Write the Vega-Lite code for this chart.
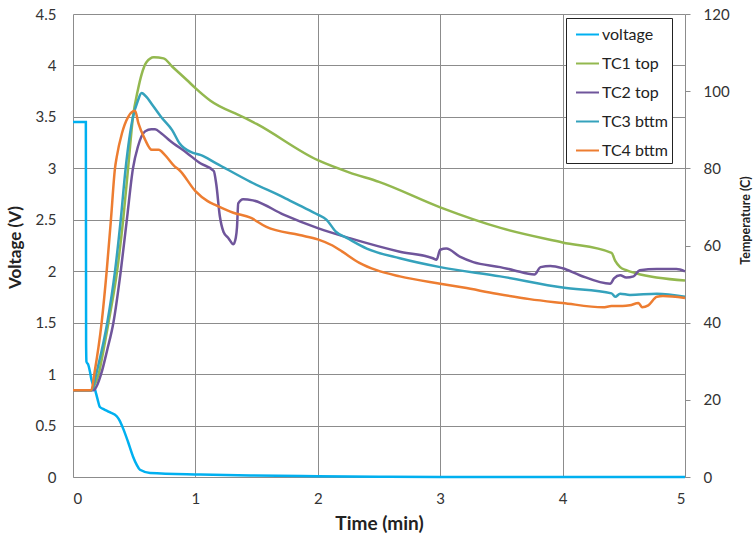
{
  "$schema": "https://vega.github.io/schema/vega-lite/v6.json",
  "width": 612,
  "height": 463,
  "autosize": {"type": "none"},
  "padding": {"left": 73, "top": 14, "right": 70, "bottom": 58},
  "background": "white",
  "config": {
    "font": "Lato",
    "view": {"stroke": null},
    "axis": {"labelFont": "Lato", "titleFont": "Lato", "labelFontSize": 15, "titleFontSize": 14, "labelColor": "#333333", "titleColor": "#222222", "gridColor": "#8c8c8c", "gridWidth": 1, "domainColor": "#8c8c8c", "tickColor": "#8c8c8c"}
  },
  "datasets": {
    "volt": [
      {"s": "voltage", "t": 0, "v": 3.45},
      {"s": "voltage", "t": 0.105, "v": 3.45},
      {"s": "voltage", "t": 0.107, "v": 1.3},
      {"s": "voltage", "t": 0.11, "v": 1.12},
      {"s": "voltage", "t": 0.125, "v": 1.09},
      {"s": "voltage", "t": 0.139, "v": 1.02},
      {"s": "voltage", "t": 0.15, "v": 0.95},
      {"s": "voltage", "t": 0.18, "v": 0.85},
      {"s": "voltage", "t": 0.2, "v": 0.76},
      {"s": "voltage", "t": 0.22, "v": 0.68},
      {"s": "voltage", "t": 0.25, "v": 0.66},
      {"s": "voltage", "t": 0.3, "v": 0.63},
      {"s": "voltage", "t": 0.357, "v": 0.59},
      {"s": "voltage", "t": 0.38, "v": 0.55},
      {"s": "voltage", "t": 0.41, "v": 0.47},
      {"s": "voltage", "t": 0.45, "v": 0.34},
      {"s": "voltage", "t": 0.49, "v": 0.2},
      {"s": "voltage", "t": 0.52, "v": 0.12},
      {"s": "voltage", "t": 0.547, "v": 0.07},
      {"s": "voltage", "t": 0.63, "v": 0.04},
      {"s": "voltage", "t": 1.04, "v": 0.025},
      {"s": "voltage", "t": 1.45, "v": 0.015},
      {"s": "voltage", "t": 2.0, "v": 0.008},
      {"s": "voltage", "t": 2.5, "v": 0.003},
      {"s": "voltage", "t": 3.0, "v": 0},
      {"s": "voltage", "t": 5.0, "v": 0}
    ],
    "temps": [
      {"s": "TC1 top", "t": 0, "v": 22.5},
      {"s": "TC1 top", "t": 0.15, "v": 22.5},
      {"s": "TC1 top", "t": 0.17, "v": 23.5},
      {"s": "TC1 top", "t": 0.21, "v": 26.7},
      {"s": "TC1 top", "t": 0.25, "v": 33},
      {"s": "TC1 top", "t": 0.29, "v": 40},
      {"s": "TC1 top", "t": 0.36, "v": 53.3},
      {"s": "TC1 top", "t": 0.41, "v": 66.7},
      {"s": "TC1 top", "t": 0.45, "v": 80},
      {"s": "TC1 top", "t": 0.49, "v": 93.3},
      {"s": "TC1 top", "t": 0.53, "v": 100.3},
      {"s": "TC1 top", "t": 0.56, "v": 104.3},
      {"s": "TC1 top", "t": 0.6, "v": 107.5},
      {"s": "TC1 top", "t": 0.66, "v": 108.8},
      {"s": "TC1 top", "t": 0.74, "v": 108.5},
      {"s": "TC1 top", "t": 0.81, "v": 106.4},
      {"s": "TC1 top", "t": 0.93, "v": 102.9},
      {"s": "TC1 top", "t": 1.0, "v": 100.8},
      {"s": "TC1 top", "t": 1.12, "v": 97.6},
      {"s": "TC1 top", "t": 1.39, "v": 93.3},
      {"s": "TC1 top", "t": 1.5, "v": 91.5},
      {"s": "TC1 top", "t": 2.0, "v": 82.1},
      {"s": "TC1 top", "t": 2.26, "v": 78.9},
      {"s": "TC1 top", "t": 2.5, "v": 76.5},
      {"s": "TC1 top", "t": 3.0, "v": 69.9},
      {"s": "TC1 top", "t": 3.5, "v": 64.5},
      {"s": "TC1 top", "t": 4.0, "v": 60.8},
      {"s": "TC1 top", "t": 4.4, "v": 58.1},
      {"s": "TC1 top", "t": 4.43, "v": 56},
      {"s": "TC1 top", "t": 4.47, "v": 54.4},
      {"s": "TC1 top", "t": 4.52, "v": 53.6},
      {"s": "TC1 top", "t": 4.6, "v": 52.8},
      {"s": "TC1 top", "t": 5.0, "v": 50.9},
      {"s": "TC2 top", "t": 0, "v": 22.5},
      {"s": "TC2 top", "t": 0.17, "v": 22.5},
      {"s": "TC2 top", "t": 0.2, "v": 24},
      {"s": "TC2 top", "t": 0.23, "v": 26.7},
      {"s": "TC2 top", "t": 0.28, "v": 33},
      {"s": "TC2 top", "t": 0.33, "v": 40},
      {"s": "TC2 top", "t": 0.39, "v": 53.3},
      {"s": "TC2 top", "t": 0.44, "v": 66.7},
      {"s": "TC2 top", "t": 0.49, "v": 80},
      {"s": "TC2 top", "t": 0.53, "v": 85.6},
      {"s": "TC2 top", "t": 0.59, "v": 89.6},
      {"s": "TC2 top", "t": 0.64, "v": 90.1},
      {"s": "TC2 top", "t": 0.67, "v": 90.1},
      {"s": "TC2 top", "t": 0.72, "v": 89.1},
      {"s": "TC2 top", "t": 0.79, "v": 87.2},
      {"s": "TC2 top", "t": 0.93, "v": 84},
      {"s": "TC2 top", "t": 1.04, "v": 81.3},
      {"s": "TC2 top", "t": 1.15, "v": 79.3},
      {"s": "TC2 top", "t": 1.17, "v": 76},
      {"s": "TC2 top", "t": 1.2, "v": 67.5},
      {"s": "TC2 top", "t": 1.23, "v": 63.5},
      {"s": "TC2 top", "t": 1.27, "v": 61.9},
      {"s": "TC2 top", "t": 1.31, "v": 60.3},
      {"s": "TC2 top", "t": 1.33, "v": 62},
      {"s": "TC2 top", "t": 1.34, "v": 64.8},
      {"s": "TC2 top", "t": 1.35, "v": 70.9},
      {"s": "TC2 top", "t": 1.39, "v": 72},
      {"s": "TC2 top", "t": 1.47, "v": 71.7},
      {"s": "TC2 top", "t": 1.72, "v": 68},
      {"s": "TC2 top", "t": 2.0, "v": 64.5},
      {"s": "TC2 top", "t": 2.26, "v": 61.9},
      {"s": "TC2 top", "t": 2.67, "v": 58.4},
      {"s": "TC2 top", "t": 2.94, "v": 56.7},
      {"s": "TC2 top", "t": 2.97, "v": 56.3},
      {"s": "TC2 top", "t": 3.0, "v": 58.9},
      {"s": "TC2 top", "t": 3.05, "v": 59.2},
      {"s": "TC2 top", "t": 3.16, "v": 57.1},
      {"s": "TC2 top", "t": 3.27, "v": 55.7},
      {"s": "TC2 top", "t": 3.49, "v": 54.4},
      {"s": "TC2 top", "t": 3.6, "v": 53.6},
      {"s": "TC2 top", "t": 3.77, "v": 52.5},
      {"s": "TC2 top", "t": 3.82, "v": 54.4},
      {"s": "TC2 top", "t": 3.9, "v": 54.7},
      {"s": "TC2 top", "t": 4.0, "v": 54.1},
      {"s": "TC2 top", "t": 4.14, "v": 52.3},
      {"s": "TC2 top", "t": 4.39, "v": 50.1},
      {"s": "TC2 top", "t": 4.42, "v": 51.5},
      {"s": "TC2 top", "t": 4.47, "v": 52.3},
      {"s": "TC2 top", "t": 4.52, "v": 51.7},
      {"s": "TC2 top", "t": 4.58, "v": 52},
      {"s": "TC2 top", "t": 4.63, "v": 53.6},
      {"s": "TC2 top", "t": 4.77, "v": 53.9},
      {"s": "TC2 top", "t": 4.93, "v": 53.9},
      {"s": "TC2 top", "t": 5.0, "v": 53.3},
      {"s": "TC3 bttm", "t": 0, "v": 22.5},
      {"s": "TC3 bttm", "t": 0.15, "v": 22.5},
      {"s": "TC3 bttm", "t": 0.17, "v": 24},
      {"s": "TC3 bttm", "t": 0.19, "v": 26.7},
      {"s": "TC3 bttm", "t": 0.28, "v": 40},
      {"s": "TC3 bttm", "t": 0.343, "v": 53.3},
      {"s": "TC3 bttm", "t": 0.39, "v": 66.7},
      {"s": "TC3 bttm", "t": 0.43, "v": 80},
      {"s": "TC3 bttm", "t": 0.49, "v": 93.3},
      {"s": "TC3 bttm", "t": 0.53, "v": 97.5},
      {"s": "TC3 bttm", "t": 0.56, "v": 99.5},
      {"s": "TC3 bttm", "t": 0.6, "v": 98.5},
      {"s": "TC3 bttm", "t": 0.64, "v": 96.8},
      {"s": "TC3 bttm", "t": 0.72, "v": 93.3},
      {"s": "TC3 bttm", "t": 0.81, "v": 89.9},
      {"s": "TC3 bttm", "t": 0.87, "v": 86.5},
      {"s": "TC3 bttm", "t": 0.98, "v": 84},
      {"s": "TC3 bttm", "t": 1.04, "v": 83.5},
      {"s": "TC3 bttm", "t": 1.17, "v": 81.3},
      {"s": "TC3 bttm", "t": 1.45, "v": 76.5},
      {"s": "TC3 bttm", "t": 1.72, "v": 72.5},
      {"s": "TC3 bttm", "t": 1.85, "v": 70.4},
      {"s": "TC3 bttm", "t": 2.0, "v": 68},
      {"s": "TC3 bttm", "t": 2.07, "v": 66.7},
      {"s": "TC3 bttm", "t": 2.15, "v": 63.5},
      {"s": "TC3 bttm", "t": 2.24, "v": 61.9},
      {"s": "TC3 bttm", "t": 2.4, "v": 59.2},
      {"s": "TC3 bttm", "t": 2.67, "v": 56.7},
      {"s": "TC3 bttm", "t": 3.0, "v": 54.4},
      {"s": "TC3 bttm", "t": 3.49, "v": 52},
      {"s": "TC3 bttm", "t": 4.0, "v": 49.1},
      {"s": "TC3 bttm", "t": 4.4, "v": 47.6},
      {"s": "TC3 bttm", "t": 4.43, "v": 46.7},
      {"s": "TC3 bttm", "t": 4.47, "v": 47.5},
      {"s": "TC3 bttm", "t": 4.55, "v": 47.2},
      {"s": "TC3 bttm", "t": 4.77, "v": 47.5},
      {"s": "TC3 bttm", "t": 5.0, "v": 46.7},
      {"s": "TC4 bttm", "t": 0, "v": 22.5},
      {"s": "TC4 bttm", "t": 0.15, "v": 22.5},
      {"s": "TC4 bttm", "t": 0.174, "v": 26.7},
      {"s": "TC4 bttm", "t": 0.234, "v": 40},
      {"s": "TC4 bttm", "t": 0.275, "v": 53.3},
      {"s": "TC4 bttm", "t": 0.31, "v": 66.7},
      {"s": "TC4 bttm", "t": 0.343, "v": 80},
      {"s": "TC4 bttm", "t": 0.357, "v": 82.9},
      {"s": "TC4 bttm", "t": 0.4, "v": 89.1},
      {"s": "TC4 bttm", "t": 0.45, "v": 93.3},
      {"s": "TC4 bttm", "t": 0.507, "v": 94.9},
      {"s": "TC4 bttm", "t": 0.534, "v": 91.7},
      {"s": "TC4 bttm", "t": 0.588, "v": 87.5},
      {"s": "TC4 bttm", "t": 0.643, "v": 84.8},
      {"s": "TC4 bttm", "t": 0.7, "v": 84.8},
      {"s": "TC4 bttm", "t": 0.75, "v": 83.5},
      {"s": "TC4 bttm", "t": 0.83, "v": 80.5},
      {"s": "TC4 bttm", "t": 0.87, "v": 79.5},
      {"s": "TC4 bttm", "t": 1.0, "v": 74.1},
      {"s": "TC4 bttm", "t": 1.1, "v": 71.5},
      {"s": "TC4 bttm", "t": 1.17, "v": 70.4},
      {"s": "TC4 bttm", "t": 1.31, "v": 68.5},
      {"s": "TC4 bttm", "t": 1.45, "v": 67.2},
      {"s": "TC4 bttm", "t": 1.58, "v": 64.8},
      {"s": "TC4 bttm", "t": 1.85, "v": 62.7},
      {"s": "TC4 bttm", "t": 2.0, "v": 61.6},
      {"s": "TC4 bttm", "t": 2.12, "v": 60},
      {"s": "TC4 bttm", "t": 2.2, "v": 58.4},
      {"s": "TC4 bttm", "t": 2.34, "v": 55.5},
      {"s": "TC4 bttm", "t": 2.48, "v": 53.6},
      {"s": "TC4 bttm", "t": 2.67, "v": 52},
      {"s": "TC4 bttm", "t": 3.0, "v": 50.1},
      {"s": "TC4 bttm", "t": 3.19, "v": 49.1},
      {"s": "TC4 bttm", "t": 3.46, "v": 47.5},
      {"s": "TC4 bttm", "t": 3.73, "v": 46.1},
      {"s": "TC4 bttm", "t": 4.0, "v": 45.1},
      {"s": "TC4 bttm", "t": 4.33, "v": 44},
      {"s": "TC4 bttm", "t": 4.4, "v": 44.3},
      {"s": "TC4 bttm", "t": 4.49, "v": 44.3},
      {"s": "TC4 bttm", "t": 4.55, "v": 44.5},
      {"s": "TC4 bttm", "t": 4.62, "v": 45.1},
      {"s": "TC4 bttm", "t": 4.65, "v": 44},
      {"s": "TC4 bttm", "t": 4.7, "v": 44.5},
      {"s": "TC4 bttm", "t": 4.77, "v": 46.7},
      {"s": "TC4 bttm", "t": 4.82, "v": 46.9},
      {"s": "TC4 bttm", "t": 5.0, "v": 46.4}
    ]
  },
  "layer": [
    {
      "data": {"name": "volt"},
      "mark": {"type": "line", "strokeWidth": 2.5, "interpolate": "monotone"},
      "encoding": {
        "x": {"field": "t", "type": "quantitative", "scale": {"domain": [0, 5], "nice": false},
          "axis": {"values": [0, 1, 2, 3, 4, 5], "format": "~g", "grid": true, "tickSize": 0, "labelPadding": 14, "title": "Time (min)", "titleFontSize": 19, "titleFontWeight": "bold", "titleY": 46, "titleBaseline": "middle"}},
        "y": {"field": "v", "type": "quantitative", "scale": {"domain": [0, 4.5], "nice": false},
          "axis": {"orient": "left", "values": [0, 0.5, 1, 1.5, 2, 2.5, 3, 3.5, 4, 4.5], "format": "~g", "grid": true, "domain": false, "tickSize": 0, "labelPadding": 17, "title": "Voltage (V)", "titleFontSize": 17, "titleFontWeight": "bold", "titleX": -58, "titleY": 233, "titleBaseline": "middle", "titleAlign": "center"}},
        "color": {"field": "s", "type": "nominal",
          "scale": {"domain": ["voltage", "TC1 top", "TC2 top", "TC3 bttm", "TC4 bttm"], "range": ["#00B0F0", "#93B84F", "#6F559B", "#35A2BC", "#ED7D31"]},
          "legend": {"title": null, "orient": "none", "legendX": 493, "legendY": 4, "strokeColor": "#222222", "fillColor": "white", "padding": 4, "symbolOffset": 5, "symbolType": "stroke", "symbolSize": 529, "symbolStrokeWidth": 2, "labelFontSize": 16, "labelFont": "Lato", "labelColor": "#222222", "labelOffset": 2, "rowPadding": 8}},
        "order": {"field": "t", "type": "quantitative"}
      }
    },
    {
      "data": {"name": "temps"},
      "mark": {"type": "line", "strokeWidth": 2.5, "interpolate": "monotone"},
      "encoding": {
        "x": {"field": "t", "type": "quantitative", "scale": {"domain": [0, 5], "nice": false}},
        "y": {"field": "v", "type": "quantitative", "scale": {"domain": [0, 120], "nice": false},
          "axis": {"orient": "right", "values": [0, 20, 40, 60, 80, 100, 120], "grid": false, "domain": false, "tickSize": 5, "labelPadding": 13, "title": "Temperature (C)", "titleFontSize": 12.5, "titleFontWeight": "bold", "titleAngle": 270, "titleX": 60, "titleY": 206, "titleBaseline": "middle", "titleAlign": "center"}},
        "color": {"field": "s", "type": "nominal"},
        "order": {"field": "t", "type": "quantitative"}
      }
    }
  ],
  "resolve": {"scale": {"y": "independent"}}
}
